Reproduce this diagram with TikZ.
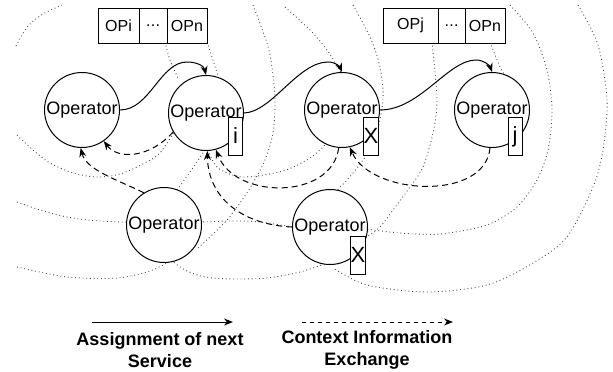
\documentclass[tikz,border=0pt]{standalone}
\usepackage{fontspec}
\setmainfont{Liberation Sans}
\usetikzlibrary{arrows.meta}
\begin{document}
\begin{tikzpicture}[x=1pt,y=-1pt,
  opnode/.style={circle,draw,fill=white,line width=1pt,minimum size=75pt,inner sep=0pt,font=\fontsize{18}{20}\selectfont},
  tagbox/.style={draw,fill=white,line width=1pt,minimum width=14pt,minimum height=38pt,inner sep=0pt,font=\fontsize{22}{24}\selectfont},
  cell/.style={draw,fill=white,line width=1pt,minimum height=35pt,inner sep=0pt,font=\fontsize{16}{18}\selectfont},
  rangearc/.style={black!70,line width=0.9pt,dash pattern=on 0.9pt off 2.8pt},
  assign/.style={line width=1pt,-{Stealth[length=9pt,width=7pt]}},
  ctx/.style={line width=1pt,dash pattern=on 6pt off 4pt,-{Stealth[length=9pt,width=7pt]}},
  legendtxt/.style={font=\bfseries\fontsize{18}{22}\selectfont,align=center}
]
\useasboundingbox (0,0) rectangle (613,372);

% coverage ranges (dotted arcs)
\draw[rangearc] plot[smooth] coordinates {(16,46) (28,26) (43,14) (62,5)};
\draw[rangearc] plot[smooth] coordinates {(17,135) (33,150) (50,163) (73,173) (97,177) (120,174) (143,164) (160,153) (174,132)};
\draw[rangearc] plot[smooth] coordinates {(17,202) (40,210) (67,217) (100,221) (164,223) (230,221) (260,222) (292,227)};
\draw[rangearc] plot[smooth] coordinates {(17,267) (67,277) (117,278) (150,271) (172,260)};
\draw[rangearc] plot[smooth] coordinates {(168,258) (185,270) (205,277) (233,279) (267,278) (300,272) (330,262)};
\draw[rangearc] plot[smooth] coordinates {(165,42) (170,60) (178,78)};
\draw[rangearc] plot[smooth] coordinates {(207,42) (212,57) (218,76)};
\draw[rangearc] plot[smooth] coordinates {(253,5) (267,43) (272,67) (275,100) (273,133) (265,160) (253,183) (240,203) (227,220) (210,237) (198,248)};
\draw[rangearc] plot[smooth] coordinates {(285,7) (310,30) (327,50) (342,74)};
\draw[rangearc] plot[smooth] coordinates {(353,5) (370,37) (380,67) (383,100) (375,140) (363,160) (347,180) (332,195)};
\draw[rangearc] plot[smooth] coordinates {(208,150) (218,168) (243,177) (283,171) (310,158) (325,145)};
\draw[rangearc] plot[smooth] coordinates {(175,193) (190,172) (205,150)};
\draw[rangearc] plot[smooth] coordinates {(578,5) (598,45) (607,100) (603,150) (593,187) (567,237) (533,263) (487,285) (427,292) (367,285) (333,268)};
\draw[rangearc] plot[smooth] coordinates {(510,5) (533,33) (547,70) (552,110) (548,150) (537,180) (517,207) (487,225) (440,234) (400,233) (366,229)};
\draw[rangearc] plot[smooth] coordinates {(432,42) (437,100) (433,133) (423,167) (410,187) (393,210) (380,227) (365,238)};
\draw[rangearc] plot[smooth] coordinates {(490,42) (500,67) (507,78)};

% service queues
\node[cell,minimum width=41pt] (q1a) at (118.5,25.5) {OPi};
\node[cell,minimum width=28pt] (q1b) at (153,25.5) {.\kern0.3pt.\kern0.3pt.};
\node[cell,minimum width=40pt] (q1c) at (187,25.5) {OPn};
\node[cell,minimum width=55pt] (q2a) at (410.5,25.5) {OPj};
\node[cell,minimum width=27pt] (q2b) at (451.5,25.5) {.\kern0.3pt.\kern0.3pt.};
\node[cell,minimum width=40pt] (q2c) at (485,25.5) {OPn};

% operators
\node[opnode] (op1) at (82,110) {Operator};
\node[opnode] (op2) at (206,113) {Operator};
\node[opnode] (op3) at (342,110) {Operator};
\node[opnode] (op4) at (492,110) {Operator};
\node[opnode] (op5) at (164,225) {Operator};
\node[opnode] (op6) at (330,227) {Operator};

% tags
\node[tagbox] (ti) at (235.5,136) {i};
\node[tagbox] (tx1) at (371,136) {X};
\node[tagbox] (tj) at (515,136.5) {j};
\node[tagbox] (tx2) at (358,255) {X};

% assignment of next service
\draw[assign] (op1.east) .. controls (150,110) and (160,62) .. (187,62) .. controls (197,62) and (204,66) .. (op2.north);
\draw[assign] (op2.east) .. controls (272,112) and (298,62) .. (328,62) .. controls (336,62) and (340,67) .. (op3.north);
\draw[assign] (op3.east) .. controls (420,110) and (448,60) .. (476,60) .. controls (484,60) and (490,66) .. (op4.north);

% context information exchange
\draw[ctx] (op2.210) .. controls (150,158) and (118,160) .. (op1.-55);
\draw[ctx] (op5.122) .. controls (118,180) and (86,170) .. (op1.-92);
\draw[ctx] (op6.west) .. controls (245,225) and (208,200) .. (op2.-88);
\draw[ctx] (op3.-95) .. controls (332,200) and (235,200) .. (op2.-75);
\draw[ctx] (op4.-93) .. controls (485,202) and (370,195) .. (op3.-78);

% legend
\coordinate (la) at (92,322);
\coordinate (lb) at (233,322);
\coordinate (lc) at (302,322);
\coordinate (ld) at (453,322);
\draw[assign] (la) -- (lb);
\draw[ctx,dash pattern=on 4pt off 4pt] (lc) -- (ld);
\node[legendtxt] (t1) at (160,350) {Assignment of next\\Service};
\node[legendtxt] (t2) at (367,350) {Context Information\\Exchange};
\end{tikzpicture}
\end{document}
